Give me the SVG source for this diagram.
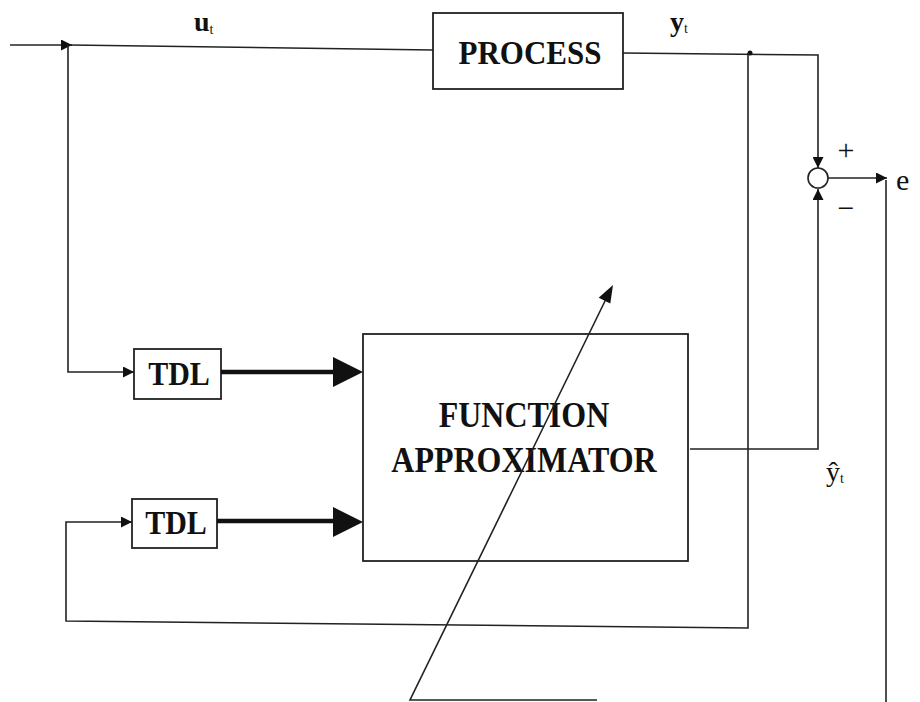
<svg xmlns="http://www.w3.org/2000/svg" width="920" height="702" viewBox="0 0 920 702">
<style>
.ln{fill:none;stroke:#222;stroke-width:1.6}
.thick{fill:none;stroke:#111;stroke-width:4.5}
.box{fill:#fff;stroke:#222;stroke-width:1.8}
.bt{font-family:"Liberation Serif","Times New Roman",serif;font-weight:bold;fill:#111;text-anchor:middle}
.lb{font-family:"Liberation Serif","Times New Roman",serif;fill:#111}
.ah{fill:#111}
</style>
<defs>
<marker id="a" viewBox="0 0 10 10" refX="10" refY="5" markerWidth="11" markerHeight="11" markerUnits="userSpaceOnUse" orient="auto">
<path d="M0,0 L10,5 L0,10 z" fill="#111"/>
</marker>
</defs>
<rect width="920" height="702" fill="#fff"/>
<g id="process">
<rect class="box" x="433" y="13" width="190" height="76"/>
<text class="bt" font-size="31" transform="translate(530,64) scale(1,1.1)">PROCESS</text>
</g>
<g id="tdl1">
<rect class="box" x="134" y="349" width="87" height="50"/>
<text class="bt" font-size="30" transform="translate(179,385) scale(1,1.1)">TDL</text>
</g>
<g id="tdl2">
<rect class="box" x="132" y="499" width="85" height="49"/>
<text class="bt" font-size="30" transform="translate(176,534) scale(1,1.1)">TDL</text>
</g>
<g id="function-approximator">
<rect class="box" x="363" y="334" width="325" height="227"/>
<text class="bt" font-size="32" transform="translate(524,427) scale(1,1.1)">FUNCTION</text>
<text class="bt" font-size="32" transform="translate(524,472) scale(1,1.1)">APPROXIMATOR</text>
</g>
<g id="sum">
<circle cx="818" cy="178" r="10" fill="#fff" stroke="#222" stroke-width="1.6"/>
<text class="lb" font-size="30" x="846" y="160" text-anchor="middle">+</text>
<text class="lb" font-size="30" x="846" y="218" text-anchor="middle">−</text>
</g>
<g id="labels">
<text class="lb" font-size="28" font-weight="bold" x="194" y="31">u<tspan font-size="14" dy="3" font-weight="normal">t</tspan></text>
<text class="lb" font-size="28" font-weight="bold" x="670" y="31">y<tspan font-size="14" dy="2" font-weight="normal">t</tspan></text>
<text class="lb" font-size="30" x="896" y="190">e</text>
<text class="lb" font-size="28" x="826" y="481">ŷ<tspan font-size="14" dy="2">t</tspan></text>
</g>
<g id="connectors">
<line class="ln" x1="10" y1="45" x2="72" y2="45" marker-end="url(#a)"/>
<polyline class="ln" points="70,45 433,50"/>
<polyline class="ln" points="68,45 68,372 134,372" marker-end="url(#a)"/>
<polyline class="ln" points="623,53 818,55 818,168" marker-end="url(#a)"/>
<circle cx="750" cy="53" r="2.5" fill="#111"/>
<polyline class="ln" points="748,53 748,628 66,621 66,522 132,522" marker-end="url(#a)"/>
<line class="ln" x1="828" y1="178" x2="887" y2="178" marker-end="url(#a)"/>
<line class="ln" x1="886" y1="180" x2="886" y2="702"/>
<polyline class="ln" points="690,449 818,449 818,189" marker-end="url(#a)"/>
<line class="thick" x1="221" y1="372" x2="335" y2="372"/>
<path class="ah" d="M333,357 L363,372 L333,387 z"/>
<line class="thick" x1="217" y1="521" x2="335" y2="521"/>
<path class="ah" d="M333,507 L363,522 L333,537 z"/>
<polyline class="ln" points="597,700 410,700 606,299"/>
<path class="ah" d="M613,285 L610.3,303.5 L598.7,297.8 z"/>
</g>
</svg>
